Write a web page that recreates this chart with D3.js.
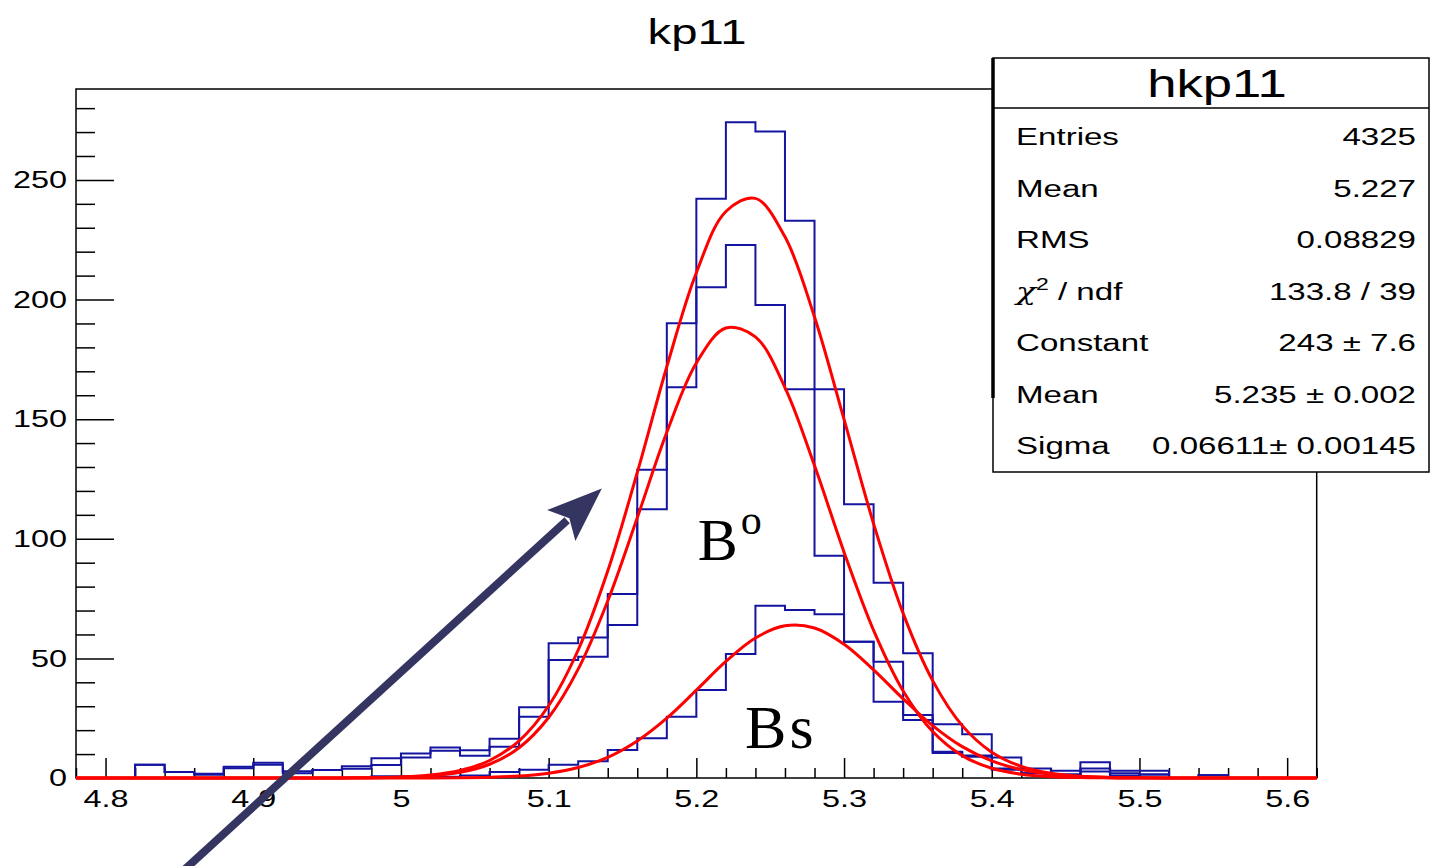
<!DOCTYPE html>
<html lang="en">
<head>
<meta charset="UTF-8" />
<title>kp11</title>
<script src="https://cdn.jsdelivr.net/npm/d3@7"></script>
<style>
  body { margin: 0; background: #fff; }
  text { font-family: "Liberation Sans", Arial, sans-serif; fill: #000; }
</style>
</head>
<body>
<svg id="chart" width="1430" height="866"></svg>
<script>
  // binning of hkp11: 42 bins, 4.78 .. 5.62
  const xMin = 4.78, xMax = 5.62, binWidth = 0.02;
  const yMax = 288;
  const xTicks = [4.8, 4.9, 5.0, 5.1, 5.2, 5.3, 5.4, 5.5, 5.6];
  const yTicks = [0, 50, 100, 150, 200, 250];

  // bin contents
  const totalCounts = [0, 0, 5.5, 2.5, 1.8, 4.7, 6.4, 2.8, 3.3, 4.9, 8.3, 10.2, 12.8, 11.6, 16.4, 29.6,
    56.3, 58.7, 76.9, 128.8, 190.1, 242.1, 274.1, 270.2, 232.9, 162.5, 114.4, 81.6, 52.1, 22.5,
    18.3, 8.6, 4, 3, 6.6, 3, 3, 0, 1.2, 0, 0, 0];
  const b0Counts = [0, 0, 5.5, 2.5, 1.4, 4.1, 5.5, 2, 3.3, 3.9, 5.4, 8.6, 11.4, 9.3, 13.1, 25.6,
    49.3, 50.7, 64, 112.3, 163.3, 205.1, 222.8, 197.7, 162.5, 92.9, 57, 31.9, 24.2, 11,
    9.4, 4, 2, 1.5, 2.7, 2, 1.5, 0, 1.2, 0, 0, 0];
  const bsCounts = [0, 0, 0, 0, 0, 0, 0, 0, 0, 0, 0.7, 0.7, 0.5, 1, 2.5, 3.5,
    5.5, 7, 11.7, 16.6, 25.6, 36.8, 51.8, 72, 70.2, 68.4, 57, 48.6, 26.3, 10.4,
    8.9, 3.5, 2, 1.5, 4, 1, 1.5, 0, 0, 0, 0, 0];

  // fitted curves, read at the bin edges
  const fitTotal = [0, 0, 0, 0, 0, 0, 0, 0, 0, 0.04, 0.14, 0.44, 1.23, 3.14, 7.31, 15.55,
    30.2, 53.5, 86.5, 127.7, 171.9, 211.2, 236.8, 242.3, 226.2, 192.7, 149.9, 106.3, 68.8,
    40.7, 21.9, 10.8, 4.84, 1.99, 0.74, 0.25, 0.08, 0, 0, 0, 0, 0, 0];
  const fitB0 = [0, 0, 0, 0, 0, 0, 0, 0, 0, 0, 0.09, 0.29, 0.87, 2.35, 5.75, 12.67,
    25.3, 45.5, 74.0, 108.8, 144.5, 173.5, 188.1, 184.4, 163.2, 130.6, 94.4, 61.7, 36.4,
    19.4, 9.35, 4.07, 1.6, 0.57, 0.18, 0.05, 0, 0, 0, 0, 0, 0, 0];
  const fitBs = [0, 0, 0, 0, 0, 0, 0, 0, 0, 0, 0, 0, 0.03, 0.11, 0.32, 0.84,
    2.02, 4.39, 8.66, 15.5, 25.0, 36.7, 48.7, 58.5, 63.6, 62.7, 55.9, 45.2, 33.1,
    21.9, 13.1, 7.14, 3.51, 1.57, 0.63, 0.23, 0.08, 0, 0, 0, 0, 0, 0];

  const statNames = ["Entries", "Mean", "RMS", "chi", "Constant", "Mean", "Sigma"];
  const statValues = ["4325", "5.227", "0.08829", "133.8 / 39", "243 \u00b1 7.6",
    "5.235 \u00b1 0.002", "0.06611\u00b1 0.00145"];

  // annotations (data coordinates)
  const arrowFrom = [4.854, -38];
  const arrowTo = [5.136, 121];

  const sx = 1.35; // the picture is stretched sideways
  const blue = "#1414a0";
  const red = "#ff0000";

  let svg = d3.select("#chart");

  const x = d3.scaleLinear().domain([xMin, xMax]).range([76, 1316.7]);
  const y = d3.scaleLinear().domain([0, yMax]).range([778, 89]);

  const edges = d3.range(totalCounts.length + 1).map((i) => xMin + i * binWidth);

  const label = (g, px, py, str, size, anchor) =>
    g.append("text")
      .attr("transform", `translate(${px},${py}) scale(${sx},1)`)
      .attr("text-anchor", anchor)
      .attr("font-size", size)
      .text(str);

  // frame
  svg.append("rect")
    .attr("x", x(xMin)).attr("y", y(yMax))
    .attr("width", x(xMax) - x(xMin)).attr("height", y(0) - y(yMax))
    .attr("fill", "none").attr("stroke", "#000").attr("stroke-width", 1.5);

  // axes: major + minor ticks, drawn inward
  const minorX = edges.filter((v) => !xTicks.some((t) => Math.abs(t - v) < 1e-6));
  const minorY = d3.range(0, yMax, 10).filter((v) => v % 50 !== 0);

  let xAxis = svg.append("g").attr("transform", `translate(0,${y(0)})`);
  xAxis.append("g").call(d3.axisBottom(x).tickValues(minorX).tickSize(-10).tickFormat(""));
  let xMajor = xAxis.append("g")
    .call(d3.axisBottom(x).tickValues(xTicks).tickSize(-20).tickPadding(12).tickFormat(d3.format("~g")));
  xMajor.selectAll("text").attr("font-size", 24).attr("transform", `scale(${sx},1)`);

  let yAxis = svg.append("g").attr("transform", `translate(${x(xMin)},0)`);
  yAxis.append("g").call(d3.axisLeft(y).tickValues(minorY).tickSize(-19).tickFormat(""));
  let yMajor = yAxis.append("g")
    .call(d3.axisLeft(y).tickValues(yTicks).tickSize(-38).tickPadding(9));
  yMajor.selectAll("text").attr("font-size", 24)
    .attr("x", -9 / sx).attr("transform", `scale(${sx},1)`);

  svg.selectAll(".domain").remove();
  svg.selectAll(".tick line").attr("stroke", "#000").attr("stroke-width", 1.5);
  svg.selectAll(".tick text").style("font-family", "'Liberation Sans', Arial, sans-serif").attr("fill", "#000");

  // histograms (step outline)
  const stepLine = d3.line()
    .x((d) => x(d[0]))
    .y((d) => y(d[1]))
    .curve(d3.curveStepAfter);

  const histPoints = (counts) => {
    let pts = counts.map((c, i) => [edges[i], c]);
    pts.push([edges[counts.length], counts[counts.length - 1]]);
    return pts;
  };

  svg.append("g")
    .selectAll("path")
    .data([bsCounts, b0Counts, totalCounts])
    .enter()
    .append("path")
    .attr("d", (d) => stepLine(histPoints(d)))
    .attr("fill", "none")
    .attr("stroke", blue)
    .attr("stroke-width", 2);

  // fit curves
  const fitLine = d3.line()
    .x((d, i) => x(edges[i]))
    .y((d) => y(d))
    .curve(d3.curveCatmullRom.alpha(0.5));

  svg.append("g")
    .selectAll("path")
    .data([fitBs, fitB0, fitTotal])
    .enter()
    .append("path")
    .attr("d", fitLine)
    .attr("fill", "none")
    .attr("stroke", red)
    .attr("stroke-width", 3);

  // title
  label(svg, 697, 44, "kp11", 35, "middle");

  // stats box
  let box = svg.append("g");
  box.append("rect")
    .attr("x", 993).attr("y", 58).attr("width", 436).attr("height", 414)
    .attr("fill", "#fff").attr("stroke", "#000").attr("stroke-width", 1.5);
  box.append("line")
    .attr("x1", 993).attr("x2", 1429).attr("y1", 108).attr("y2", 108)
    .attr("stroke", "#000").attr("stroke-width", 1.5);
  box.append("line")
    .attr("x1", 993).attr("x2", 993).attr("y1", 58).attr("y2", 398)
    .attr("stroke", "#000").attr("stroke-width", 3.5);
  label(box, 1217, 97, "hkp11", 39, "middle");

  statNames.forEach((name, i) => {
    const rowY = 145 + i * 51.5;
    if (name === "chi") {
      let t = label(box, 1016, rowY, "", 24.5, "start");
      t.append("tspan").style("font-family", "'DejaVu Serif', serif").style("font-style", "italic").text("\u03c7");
      t.append("tspan").attr("font-size", 17).attr("dy", -10).text("2");
      t.append("tspan").attr("dy", 10).text(" / ndf");
    } else {
      label(box, 1016, rowY, name, 24.5, "start");
    }
    label(box, 1416, rowY, statValues[i], 24.5, "end");
  });

  // annotations
  let notes = svg.append("g");
  notes.append("text")
    .attr("x", x(5.201)).attr("y", y(91))
    .attr("font-size", 60)
    .style("font-family", "'Liberation Serif', serif")
    .text("B")
    .append("tspan").attr("font-size", 42).attr("dy", -26).attr("dx", 3).text("o");
  notes.append("text")
    .attr("x", x(5.233)).attr("y", y(12.5))
    .attr("font-size", 62)
    .attr("letter-spacing", 3)
    .style("font-family", "'Liberation Serif', serif")
    .text("Bs");

  // arrow
  const ax0 = x(arrowFrom[0]), ay0 = y(arrowFrom[1]);
  const ax1 = x(arrowTo[0]), ay1 = y(arrowTo[1]);
  const ang = Math.atan2(ay1 - ay0, ax1 - ax0);
  const headLen = 55, headHalf = 21;
  const bx = ax1 - headLen * Math.cos(ang), by = ay1 - headLen * Math.sin(ang);
  const nx = -Math.sin(ang), ny = Math.cos(ang);
  let arrow = svg.append("g").attr("fill", "#353562").attr("stroke", "#353562");
  arrow.append("line")
    .attr("x1", ax0).attr("y1", ay0)
    .attr("x2", bx + 8 * Math.cos(ang)).attr("y2", by + 8 * Math.sin(ang))
    .attr("stroke-width", 8);
  arrow.append("path")
    .attr("stroke", "none")
    .attr("d", d3.line()([
      [ax1, ay1],
      [bx + headHalf * nx, by + headHalf * ny],
      [bx + 11 * Math.cos(ang), by + 11 * Math.sin(ang)],
      [bx - headHalf * nx, by - headHalf * ny]
    ]) + "Z");
</script>
</body>
</html>
